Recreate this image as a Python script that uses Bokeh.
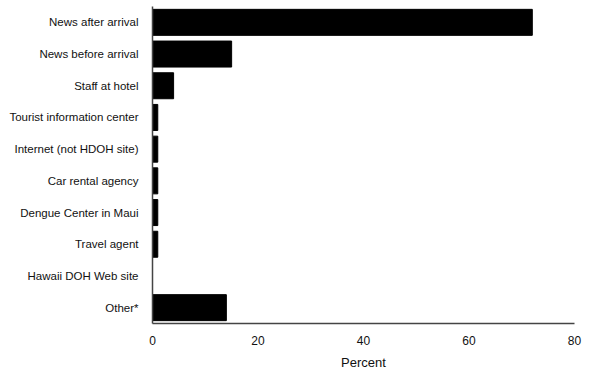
from bokeh.plotting import figure
from bokeh.models import FactorRange, Range1d, FixedTicker
from bokeh.embed import file_html
from bokeh.resources import INLINE

categories = [
    "News after arrival",
    "News before arrival",
    "Staff at hotel",
    "Tourist information center",
    "Internet (not HDOH site)",
    "Car rental agency",
    "Dengue Center in Maui",
    "Travel agent",
    "Hawaii DOH Web site",
    "Other*",
]
percent = [72, 15, 4, 1, 1, 1, 1, 1, 0, 14]
x_ticks = [0, 20, 40, 60, 80]

FONT = "Liberation Sans"

p = figure(
    y_range=FactorRange(factors=list(reversed(categories)), range_padding=0),
    x_range=Range1d(0, 80),
    frame_width=422, frame_height=317,
    output_backend="svg", toolbar_location=None,
    min_border_left=152, min_border_top=6, min_border_right=16, min_border_bottom=0,
)
p.hbar(y=categories, right=percent, left=0, height=0.82, color="black")

p.outline_line_color = None
p.grid.visible = False
p.background_fill_color = "white"

p.xaxis.ticker = FixedTicker(ticks=x_ticks)
p.xaxis.axis_label = "Percent"
p.xaxis.axis_label_text_font = FONT
p.xaxis.axis_label_text_font_style = "normal"
p.xaxis.axis_label_text_font_size = "13px"
p.xaxis.axis_label_text_color = "#111111"
p.xaxis.axis_label_standoff = 7

for ax in (p.xaxis, p.yaxis):
    ax.major_tick_line_color = None
    ax.minor_tick_line_color = None
    ax.major_label_text_font = FONT
    ax.major_label_text_font_size = "12px"
    ax.major_label_text_color = "#111111"
    ax.axis_line_color = "#444444"
    ax.axis_line_width = 1.5

p.yaxis.major_label_text_font_size = "11.5px"
p.xaxis.major_label_standoff = 6
p.yaxis.major_label_standoff = 8

open("out.html", "w").write(file_html(p, INLINE))
